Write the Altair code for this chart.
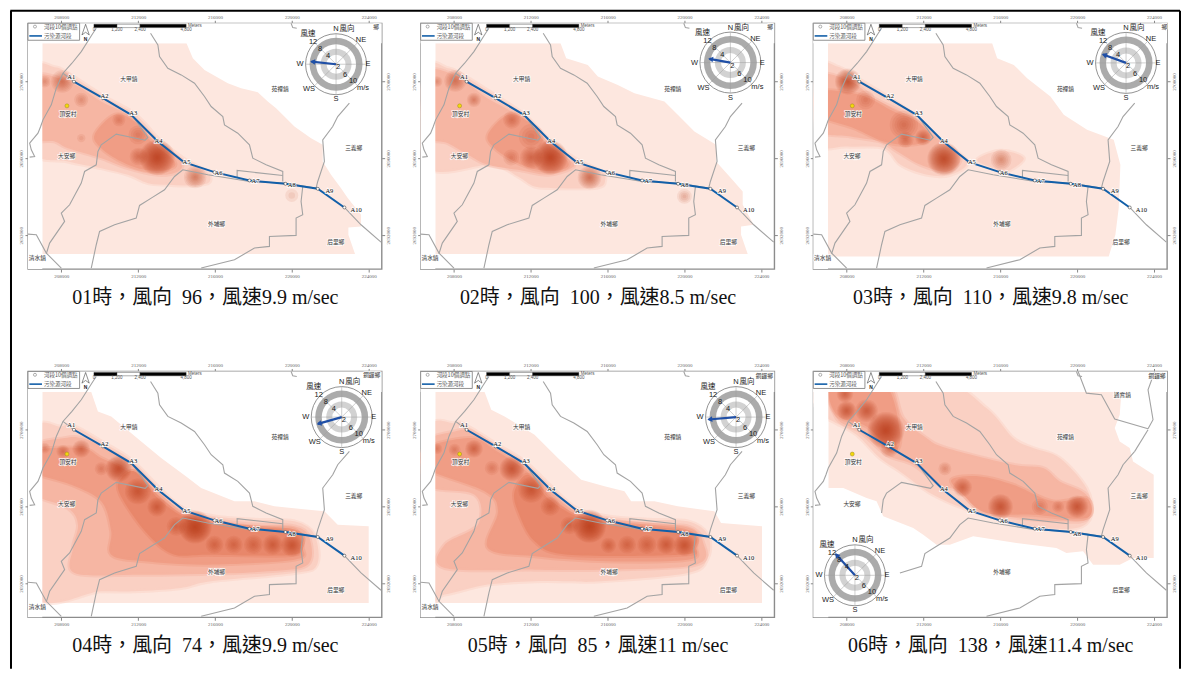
import math
import altair as alt
import pandas as pd

SERIF = "Liberation Serif, Noto Sans CJK TC"
SANS = "Liberation Sans, Noto Sans CJK TC"
CJK = "Noto Sans CJK TC"

# ---- panels ----
HOURS = ["01", "02", "03", "04", "05", "06"]
WIND_DIR = [96, 100, 110, 74, 85, 138]
WIND_SPEED = ["9.9", "8.5", "9.8", "9.9", "11", "11.4"]
# digitising origin of each panel (plot corner in the 3x reading grid)
ORIGIN_X = [80, 58, 58, 80, 58, 40]
ORIGIN_Y = [65, 65, 65, 60, 60, 60]
ROSE_X = [1005, 988, 997, 1022, 1005, 165]
ROSE_Y = [188, 183, 184, 197, 197, 672]

# ---- georeferencing (TWD97 metres; 52 m per pixel) ----
M_PER_PX = 52.0
E_MIN = 206267.0
N_MAX = 2703033.0
PLOT_W, PLOT_H = 354, 246
X_TICKS = [208000, 212000, 216000, 220000, 224000]
Y_TICKS = [2692000, 2696000, 2700000]
SCALE_BAR_START = 206267 + (278 - 80) / 3 * 52

# ---- shared map layers, read on panel 1's grid ----
RIVER_X = [218, 305, 390, 470, 548, 640, 745, 853, 950, 1030]
RIVER_Y = [240, 290, 340, 420, 482, 512, 537, 547, 562, 618]
RIVER_NAMES = ["A1", "A2", "A3", "A4", "A5", "A6", "A7", "A8", "A9", "A10"]
RIVER_LABEL_X = [210, 310, 396, 472, 556, 652, 763, 872, 985, 1065]
RIVER_LABEL_Y = [225, 282, 335, 417, 483, 514, 538, 552, 569, 625]

ROADS = [
    [(285, 80), (275, 95), (240, 150), (212, 185), (185, 215), (165, 260), (150, 310), (125, 355),
     (118, 375), (110, 395), (85, 425), (90, 445), (100, 465), (85, 467)],
    [(185, 215), (218, 240)],
    [(448, 95), (470, 130), (475, 165), (500, 200), (540, 220), (580, 245), (610, 285), (630, 315),
     (665, 345), (670, 370), (710, 395), (745, 430), (755, 470), (795, 490), (845, 510), (845, 540)],
    [(945, 560), (850, 545), (745, 540), (620, 520), (545, 505), (520, 525), (490, 565), (450, 590),
     (415, 612), (405, 650), (340, 670), (295, 690), (285, 730), (270, 800)],
    [(395, 345), (440, 408), (432, 416), (345, 398), (300, 430), (290, 450), (285, 490), (250, 510),
     (240, 545), (205, 610), (180, 635), (190, 660), (145, 725), (135, 757)],
    [(905, 555), (900, 600), (905, 640), (885, 650), (885, 702), (805, 705), (805, 735), (760, 740),
     (700, 775), (600, 800)],
    [(708, 527), (708, 507), (845, 522)],
    [(1045, 305), (1010, 345), (995, 375), (965, 415), (970, 480), (950, 540), (945, 560)],
    [(1030, 618), (1080, 670), (1140, 722)],
    [(80, 698), (105, 700), (135, 755), (180, 800)],
    [(870, 65), (875, 78), (887, 80)],
]
ROADS_06 = [
    [(1085, 240), (1045, 305)],
    [(875, 65), (900, 130), (945, 135), (985, 208), (1085, 237)],
    [(1085, 237), (1100, 210), (1085, 120), (1105, 65)],
]

PLACE_NAMES = ["大甲鎮", "苑裡鎮", "三義鄉", "頂安村", "大安鄉", "外埔鄉", "后里鄉", "清水鎮"]
PLACE_X = [383, 837, 1058, 200, 196, 646, 1004, 108]
PLACE_Y = [232, 263, 439, 337, 463, 667, 721, 771]
CORNER_TEXT = ["鄉", "鄉", "鄉", "銅鑼鄉", "銅鑼鄉", "銅鑼鄉"]
CORNER_X = [1125, 1107, 1112, 1112, 1090, 1072]
CORNER_Y = [76, 76, 76, 72, 73, 73]
VILLAGE = (197, 313)

LEGEND_LABELS = ["河段10個調點", "污染源河段"]
SCALE_STOPS = [0, 1200, 2400, 4800]
SCALE_TEXT = ["0", "1,200", "2,400", "4,800"]

# ---- plume contours per panel, read on each panel's own grid ----
LEVEL_COLOURS = {1: "#FDE7DF", 2: "#FAD0C3", 3: "#F6B6A3", 4: "#F09D85", 5: "#E8876B"}

BASE = [
    [(123, 125), (556, 125), (575, 170), (610, 205), (680, 245), (720, 260), (770, 272), (800, 300), (825, 320),
     (850, 345), (880, 375), (930, 410), (965, 430), (965, 480), (990, 520), (1020, 560), (1040, 590), (1080, 640),
     (1080, 675), (1042, 678), (1042, 700), (1062, 758), (123, 758)],
    [(102, 125), (478, 125), (495, 170), (560, 190), (590, 225), (650, 250), (700, 275), (790, 300), (830, 340),
     (880, 390), (945, 430), (945, 480), (990, 530), (1025, 570), (1025, 610), (1058, 670), (1020, 675), (1020, 700),
     (1040, 758), (102, 758)],
    [(102, 125), (595, 125), (610, 170), (660, 190), (700, 230), (770, 285), (810, 340), (880, 385), (960, 415),
     (980, 490), (975, 620), (965, 700), (945, 765), (102, 765)],
    [(123, 122), (270, 122), (290, 180), (330, 195), (420, 270), (480, 320), (555, 375), (600, 410), (700, 450),
     (760, 450), (820, 465), (970, 480), (1010, 520), (1103, 525), (1103, 755), (123, 755)],
    [(102, 122), (250, 122), (270, 175), (310, 195), (400, 250), (470, 320), (540, 385), (610, 405), (670, 420),
     (690, 450), (760, 450), (830, 465), (940, 480), (960, 515), (1083, 525), (1083, 755), (102, 755)],
    [(85, 122), (965, 122), (960, 190), (945, 230), (960, 270), (990, 290), (1000, 330), (1062, 370), (1062, 620),
     (1000, 620), (960, 640), (880, 640), (850, 600), (800, 605), (770, 590), (650, 575), (520, 555), (450, 580),
     (410, 580), (370, 550), (340, 530), (250, 495), (230, 450), (200, 440), (130, 410), (85, 410)],
]

# (level, outline)
BANDS = [
    [(2, [(123, 205), (160, 197), (200, 215), (300, 280), (390, 330), (430, 365), (470, 410), (545, 470), (600, 500),
          (625, 520), (620, 545), (560, 552), (500, 550), (440, 545), (380, 520), (300, 500), (200, 480), (123, 445)]),
     (3, [(123, 230), (200, 240), (300, 300), (380, 340), (440, 400), (480, 430), (540, 480), (530, 510), (470, 520),
          (380, 500), (300, 470), (200, 440), (160, 420), (123, 400)]),
     (4, [(280, 400), (340, 340), (400, 360), (450, 420), (520, 480), (500, 505), (430, 505), (360, 480), (300, 440)])],
    [(2, [(102, 205), (140, 200), (185, 220), (280, 280), (370, 340), (440, 410), (520, 470), (600, 510), (612, 535),
          (590, 558), (470, 560), (400, 555), (350, 525), (270, 490), (102, 492)]),
     (3, [(102, 215), (170, 225), (250, 285), (340, 335), (390, 375), (430, 420), (510, 480), (510, 500), (440, 520),
          (350, 505), (260, 490), (200, 460), (140, 425), (102, 395)]),
     (4, [(260, 400), (320, 340), (380, 360), (430, 420), (500, 480), (480, 505), (410, 505), (340, 480), (280, 440)])],
    [(2, [(102, 200), (130, 195), (190, 230), (280, 285), (360, 340), (440, 415), (520, 480), (470, 520), (400, 520),
          (320, 490), (270, 440), (160, 435), (102, 420)]),
     (2, [(550, 475), (620, 448), (690, 470), (640, 510), (600, 500)]),
     (3, [(102, 225), (170, 240), (240, 290), (340, 340), (400, 385), (440, 420), (500, 470), (460, 510), (380, 490),
          (310, 450), (260, 420), (170, 405), (102, 380)]),
     (4, [(102, 270), (200, 280), (300, 330), (370, 360), (410, 410), (350, 430), (270, 420), (180, 380), (102, 340)])],
    [(2, [(123, 260), (180, 225), (220, 225), (300, 270), (390, 325), (470, 405), (545, 470), (640, 495), (760, 505),
          (880, 510), (940, 550), (948, 640), (880, 665), (630, 690), (540, 710), (400, 720), (300, 720), (123, 722)]),
     (3, [(123, 290), (190, 260), (240, 260), (300, 285), (390, 340), (470, 420), (545, 480), (640, 505), (760, 520),
          (880, 525), (925, 560), (920, 640), (800, 660), (600, 668), (400, 670), (220, 665), (215, 590), (230, 520),
          (200, 470), (123, 420)]),
     (4, [(123, 300), (240, 290), (300, 320), (380, 360), (470, 430), (545, 490), (640, 510), (760, 530), (880, 535),
          (905, 590), (880, 625), (620, 640), (430, 630), (330, 610), (330, 540), (300, 450), (210, 400), (123, 360)]),
     (5, [(350, 400), (400, 360), (470, 440), (545, 495), (640, 520), (880, 540), (900, 590), (860, 612), (620, 610),
          (520, 610), (450, 560), (380, 470)])],
    [(2, [(102, 260), (160, 215), (200, 225), (280, 275), (370, 330), (450, 405), (525, 470), (620, 495), (740, 505),
          (860, 510), (920, 550), (920, 620), (860, 665), (600, 690), (500, 690), (400, 690), (260, 700), (130, 730),
          (102, 730)]),
     (3, [(102, 275), (160, 240), (210, 240), (280, 285), (370, 345), (450, 420), (525, 480), (620, 505), (740, 520),
          (860, 525), (905, 570), (885, 640), (600, 655), (400, 655), (130, 650), (130, 580), (230, 520), (220, 430),
          (102, 400)]),
     (4, [(102, 290), (210, 260), (280, 295), (370, 355), (440, 425), (525, 490), (620, 510), (860, 535), (885, 590),
          (860, 625), (620, 630), (400, 615), (260, 590), (290, 480), (250, 420), (102, 350)]),
     (5, [(340, 420), (380, 370), (440, 440), (525, 495), (620, 520), (860, 545), (880, 590), (840, 610), (500, 610),
          (400, 570), (350, 480)])],
    [(2, [(85, 122), (420, 122), (560, 170), (640, 260), (700, 290), (780, 320), (860, 410), (875, 490), (830, 530),
          (700, 525), (520, 480), (400, 430), (300, 360), (240, 320), (170, 250), (100, 210), (85, 180)]),
     (3, [(90, 122), (260, 122), (310, 200), (380, 260), (440, 290), (640, 340), (730, 350), (780, 390), (860, 430),
          (865, 500), (790, 510), (600, 490), (480, 420), (420, 400), (340, 340), (260, 310), (180, 240), (110, 200)]),
     (4, [(95, 122), (250, 122), (300, 240), (280, 300), (200, 225), (110, 190)]),
     (4, [(455, 385), (540, 375), (640, 400), (760, 450), (860, 440), (860, 500), (700, 490), (560, 485), (490, 430)])],
]

# hot spots: x, y, radius, strength
HOT = [
    [(130, 240, 20, 2), (183, 240, 38, 4), (240, 295, 24, 2), (240, 410, 14, 1), (353, 355, 22, 2), (410, 400, 32, 2),
     (412, 465, 30, 3), (468, 468, 60, 9), (582, 527, 38, 4), (872, 582, 22, 1)],
    [(107, 240, 18, 2), (162, 238, 37, 4), (218, 295, 24, 3), (332, 355, 30, 3), (390, 405, 42, 2), (390, 468, 38, 4),
     (448, 468, 58, 9), (565, 528, 40, 5), (850, 585, 25, 2), (330, 468, 27, 2)],
    [(162, 240, 44, 7), (215, 295, 32, 2), (330, 370, 48, 3), (335, 415, 27, 3), (388, 408, 27, 4), (450, 472, 56, 9),
     (622, 475, 35, 3)],
    [(130, 290, 18, 2), (240, 292, 30, 4), (185, 300, 22, 3), (300, 352, 22, 2), (352, 352, 44, 7), (410, 420, 44, 5),
     (467, 467, 32, 4), (582, 527, 56, 9), (525, 525, 32, 3), (640, 580, 30, 3), (698, 580, 30, 3), (757, 580, 32, 3),
     (815, 580, 34, 4), (873, 582, 38, 5)],
    [(107, 292, 18, 2), (218, 292, 30, 4), (160, 295, 20, 2), (272, 350, 24, 2), (332, 352, 42, 6), (390, 415, 44, 5),
     (447, 465, 32, 3), (565, 525, 56, 9), (505, 522, 30, 3), (622, 582, 26, 3), (678, 580, 30, 3), (737, 580, 32, 3),
     (795, 580, 32, 4), (850, 582, 36, 5)],
    [(135, 128, 28, 4), (140, 178, 33, 5), (200, 178, 38, 5), (258, 237, 62, 9), (268, 292, 30, 3), (435, 352, 22, 2),
     (488, 408, 32, 4), (602, 466, 42, 6), (775, 466, 20, 2), (832, 466, 38, 6), (720, 466, 27, 2)],
]

# ---- wind rose ----
ROSE_RINGS = [(30.5, "#FFFFFF"), (26.5, "#ABABAB"), (20.0, "#FFFFFF"), (15.5, "#D2D2D2"), (9.5, "#FFFFFF")]
ROSE_SPOKES = [0, 45, 90, 135]
ROSE_TEXT = ["N", "風向", "NE", "E", "m/s", "S", "WS", "W", "風速", "2", "4", "6", "8", "10", "12"]
ROSE_TEXT_DX = [0, 11, 25, 32, 27, 0, -27, -36, -28, 2, -8, 9, -16, 17, -23]
ROSE_TEXT_DY = [-35, -35, -24, 0, 24, 35, 25, 0, -30, 3, -8, 11, -15, 17, -22]
PX_PER_MS = 2.5
RING_STEPS = 2  # translucent circles per unit of hot-spot strength
BLEED = 30  # contour vertices on the plume's cut edges extend this far under the mask


def east(zx, x0):
    return E_MIN + (zx - x0) / 3 * M_PER_PX


def north(zy, y0):
    return N_MAX - (zy - y0) / 3 * M_PER_PX


def X(axis=None):
    return alt.X("e:Q", scale=alt.Scale(domain=[E_MIN, E_MIN + PLOT_W * M_PER_PX], nice=False, zero=False), axis=axis)


def Y(axis=None):
    return alt.Y("n:Q", scale=alt.Scale(domain=[N_MAX - PLOT_H * M_PER_PX, N_MAX], nice=False, zero=False), axis=axis)


def text_layer(rows, font, size, colour="#333333", halo=True, weight="normal"):
    df = pd.DataFrame(rows)
    enc = dict(x=X(), y=Y(), text="t:N")
    base = alt.Chart(df)
    out = []
    if halo:
        out.append(base.mark_text(font=font, fontSize=size, stroke="white", strokeWidth=1.6, strokeOpacity=0.85,
                                  fontWeight=weight).encode(**enc))
    out.append(base.mark_text(font=font, fontSize=size, color=colour, fontWeight=weight).encode(**enc))
    return out


def polygons(outlines):
    rows = []
    for i, (level, pts) in enumerate(outlines):
        for k, (x, y) in enumerate(pts):
            rows.append(dict(e=x, n=y, id=i, k=k, c=LEVEL_COLOURS[level]))
    return pd.DataFrame(rows)


def panel(i, extra=None):
    x0, y0 = ORIGIN_X[i], ORIGIN_Y[i]
    left = min(p[0] for p in BASE[i])
    top = min(p[1] for p in BASE[i])

    def fix_poly(df, bleed=False):
        df = df.copy()
        if bleed:
            df.loc[df["e"] <= left, "e"] -= BLEED
            df.loc[df["n"] <= top, "n"] -= BLEED
        df["e"] = east(df["e"], x0)
        df["n"] = north(df["n"], y0)
        return df

    layers = []
    caption = f"{HOURS[i]}時\uff0c風向\u2002{WIND_DIR[i]}\uff0c風速{WIND_SPEED[i]} m/sec"
    ax_common = dict(labelFont="Liberation Serif", labelFontSize=5, labelColor="#666666", tickColor="#888888",
                     tickSize=3, domain=False, grid=False, labelPadding=1)
    xb = alt.Axis(orient="bottom", values=X_TICKS, format="d", title=caption, titleFont=SERIF, titleFontSize=20,
                  titleFontWeight="normal", titleColor="#111111", titlePadding=9, **ax_common)
    xt = alt.Axis(orient="top", values=X_TICKS, format="d", title=None, **ax_common)
    yl = alt.Axis(orient="left", values=Y_TICKS, format="d", title=None, labelAngle=270, labelAlign="center",
                  labelBaseline="bottom", **ax_common)
    yr = alt.Axis(orient="right", values=Y_TICKS, format="d", title=None, labelAngle=270, labelAlign="center",
                  labelBaseline="top", **ax_common)

    # plume base
    base_df = fix_poly(polygons([(1, BASE[i])]))
    layers.append(alt.Chart(base_df).mark_line(filled=True, interpolate="linear-closed", strokeWidth=0).encode(
        x=X(xb), y=Y(yl), order="k:Q", detail="id:N", color=alt.Color("c:N", scale=None)))
    band_df = fix_poly(polygons(BANDS[i]), bleed=True)
    layers.append(alt.Chart(band_df).mark_line(filled=True, interpolate="cardinal-closed", strokeWidth=4,
                                               strokeOpacity=0.45, clip=True).encode(
        x=X(xt), y=Y(yr), order="k:Q", detail="id:N", fill=alt.Fill("c:N", scale=None),
        stroke=alt.Stroke("c:N", scale=None)))

    # hot spots as stacked translucent rings
    rows = []
    for (x, y, r, n) in HOT[i]:
        steps = n * RING_STEPS
        for j in range(steps):
            rr = r / 3 * (1 - j / steps)
            rows.append(dict(e=east(x, x0), n=north(y, y0), a=math.pi * rr * rr))
    layers.append(alt.Chart(pd.DataFrame(rows)).mark_circle(color="#B93518", opacity=0.085, clip=True).encode(
        x=X(), y=Y(), size=alt.Size("a:Q", scale=None)))

    # white masks that cut the plume along the straight edge of its grid
    mask = pd.DataFrame([
        dict(e=E_MIN, e2=east(left, x0), n=N_MAX, n2=N_MAX - PLOT_H * M_PER_PX),
        dict(e=E_MIN, e2=E_MIN + PLOT_W * M_PER_PX, n=N_MAX, n2=north(top, y0)),
    ])
    layers.append(alt.Chart(mask).mark_rect(color="white", opacity=1).encode(x=X(), x2="e2:Q", y=Y(), y2="n2:Q"))

    # roads, digitised on panel 1's grid (the lower-left corner of panel 6 is left blank for its wind rose)
    roads = list(ROADS) + (ROADS_06 if i == 5 else [])
    rows = []
    for rid, pts in enumerate(roads):
        for k, (x, y) in enumerate(pts):
            if i == 5 and x < 320 and y > 500:
                continue
            rows.append(dict(e=east(x, 80), n=north(y, 65), id=rid, k=k))
    layers.append(alt.Chart(pd.DataFrame(rows)).mark_line(color="#A3A3A3", strokeWidth=1.1).encode(
        x=X(), y=Y(), order="k:Q", detail="id:N"))

    # river
    river = pd.DataFrame(dict(e=[east(v, 80) for v in RIVER_X], n=[north(v, 65) for v in RIVER_Y], k=range(10)))
    layers.append(alt.Chart(river).mark_line(color="#125FA8", strokeWidth=2).encode(x=X(), y=Y(), order="k:Q"))
    layers.append(alt.Chart(river).mark_point(shape="circle", size=9, filled=True, fill="white", stroke="#444444",
                                              strokeWidth=0.6, opacity=1).encode(x=X(), y=Y()))
    layers += text_layer([dict(e=east(x, 80), n=north(y, 65), t=t)
                          for x, y, t in zip(RIVER_LABEL_X, RIVER_LABEL_Y, RIVER_NAMES)], SERIF, 6.5, "#222222")

    # village + place names
    layers.append(alt.Chart(pd.DataFrame([dict(e=east(VILLAGE[0], 80), n=north(VILLAGE[1], 65))])).mark_point(
        shape="circle", size=16, filled=True, fill="#F4D80C", stroke="#9A8A20", strokeWidth=0.5, opacity=1
    ).encode(x=X(), y=Y()))
    names = [dict(e=east(x, 80), n=north(y, 65), t=t) for x, y, t in zip(PLACE_X, PLACE_Y, PLACE_NAMES)
             if not (i == 5 and t == "清水鎮")]
    names.append(dict(e=east(CORNER_X[i], x0), n=north(CORNER_Y[i], y0), t=CORNER_TEXT[i]))
    if i == 5:
        names.append(dict(e=east(968, x0), n=north(132, y0), t="通霄鎮"))
    layers += text_layer(names, CJK, 5.7, "#444444")

    # map legend
    box = pd.DataFrame([dict(e=east(80, 80), e2=east(235, 80), n=north(65, 65), n2=north(116, 65))])
    layers.append(alt.Chart(box).mark_rect(fill="white", stroke="#777777", strokeWidth=0.8).encode(
        x=X(), x2="e2:Q", y=Y(), y2="n2:Q"))
    layers.append(alt.Chart(pd.DataFrame([dict(e=east(101, 80), n=north(75, 65))])).mark_point(
        shape="circle", size=9, color="#444444", strokeWidth=0.6).encode(x=X(), y=Y()))
    leg_line = pd.DataFrame(dict(e=[east(84, 80), east(122, 80)], n=[north(103, 65)] * 2))
    layers.append(alt.Chart(leg_line).mark_line(color="#125FA8", strokeWidth=1.6).encode(x=X(), y=Y()))
    layers.append(alt.Chart(pd.DataFrame([dict(e=east(128, 80), n=north(y, 65), t=t) for y, t in zip([77, 103], LEGEND_LABELS)]))
                  .mark_text(font=CJK, fontSize=5.5, color="#555555", align="left").encode(x=X(), y=Y(), text="t:N"))

    # north arrow
    arrow = pd.DataFrame(dict(e=[east(v, 80) for v in [253, 242, 253, 264]], n=[north(v, 65) for v in [68, 100, 92, 100]], k=range(4)))
    layers.append(alt.Chart(arrow).mark_line(interpolate="linear-closed", color="#444444", strokeWidth=0.6).encode(
        x=X(), y=Y(), order="k:Q"))
    layers.append(alt.Chart(pd.DataFrame([dict(e=east(253, 80), n=north(111, 65), t="N")])).mark_text(
        font=SANS, fontSize=5, color="#222222", fontWeight="bold").encode(x=X(), y=Y(), text="t:N"))

    # scale bar (metres along the x scale)
    sbar = pd.DataFrame([
        dict(e=SCALE_BAR_START + a, e2=SCALE_BAR_START + b, n=north(68, 65), n2=north(78, 65), c=c)
        for a, b, c in zip(SCALE_STOPS[:-1], SCALE_STOPS[1:], ["#000000", "#FFFFFF", "#000000"])
    ])
    layers.append(alt.Chart(sbar).mark_rect(stroke="#333333", strokeWidth=0.4).encode(
        x=X(), x2="e2:Q", y=Y(), y2="n2:Q", fill=alt.Fill("c:N", scale=None)))
    layers.append(alt.Chart(pd.DataFrame([dict(e=SCALE_BAR_START + s, n=north(85, 65), t=t) for s, t in zip(SCALE_STOPS, SCALE_TEXT)]))
                  .mark_text(font=SANS, fontSize=4.5, color="#555555").encode(x=X(), y=Y(), text="t:N"))
    layers.append(alt.Chart(pd.DataFrame([dict(e=SCALE_BAR_START + 4900, n=north(73, 65), t="Meters")]))
                  .mark_text(font=SANS, fontSize=4.5, color="#555555", align="left").encode(x=X(), y=Y(), text="t:N"))

    # wind rose (a Vega circle of size s has radius sqrt(s) / 2)
    cx, cy = east(ROSE_X[i], x0), north(ROSE_Y[i], y0)
    rings = pd.DataFrame([dict(e=cx, n=cy, a=4 * r * r, c=c, k=j) for j, (r, c) in enumerate(ROSE_RINGS)])
    for j in range(len(ROSE_RINGS)):
        ring = rings[rings.k == j]
        stroke = dict(stroke="#777777", strokeWidth=0.8) if j == 0 else {}
        layers.append(alt.Chart(ring).mark_circle(opacity=1, **stroke).encode(
            x=X(), y=Y(), size=alt.Size("a:Q", scale=None), color=alt.Color("c:N", scale=None)))
    R = 30.5 * M_PER_PX
    spokes = pd.DataFrame([
        dict(e=cx - R * math.sin(math.radians(b)), n=cy - R * math.cos(math.radians(b)),
             e2=cx + R * math.sin(math.radians(b)), n2=cy + R * math.cos(math.radians(b)))
        for b in ROSE_SPOKES
    ])
    layers.append(alt.Chart(spokes).mark_rule(color="#9E9E9E", strokeWidth=0.5).encode(
        x=X(), x2="e2:Q", y=Y(), y2="n2:Q"))
    bearing = (WIND_DIR[i] + 180) % 360
    speed = float(WIND_SPEED[i])
    L = speed * PX_PER_MS * M_PER_PX
    sinb, cosb = math.sin(math.radians(bearing)), math.cos(math.radians(bearing))
    layers.append(alt.Chart(pd.DataFrame([dict(e=cx, e2=cx + L * sinb, n=cy, n2=cy + L * cosb)])).mark_rule(
        color="#1F4FA6", strokeWidth=2.2).encode(x=X(), x2="e2:Q", y=Y(), y2="n2:Q"))
    layers.append(alt.Chart(pd.DataFrame([dict(e=cx + (L - 60) * sinb, n=cy + (L - 60) * cosb, a=bearing)])).mark_point(
        shape="triangle-up", size=32, filled=True, color="#1F4FA6", opacity=1).encode(
        x=X(), y=Y(), angle=alt.Angle("a:Q", scale=None)))
    rose_rows = [dict(e=cx + dx * M_PER_PX, n=cy - dy * M_PER_PX, t=t)
                 for t, dx, dy in zip(ROSE_TEXT, ROSE_TEXT_DX, ROSE_TEXT_DY)]
    layers += text_layer(rose_rows, SANS, 7.5, "#222222", halo=False)

    if extra:
        layers += extra
    return alt.layer(*layers).resolve_axis(x="independent", y="independent").properties(width=PLOT_W, height=PLOT_H)


# outer sheet frame, anchored on the first panel
dummy = alt.Data(values=[{}])
frame = [
    alt.Chart(dummy).mark_rule(color="black", strokeWidth=2).encode(x=alt.value(-17), y=alt.value(-12.5), y2=alt.value(646)),
    alt.Chart(dummy).mark_rule(color="black", strokeWidth=2).encode(x=alt.value(-17.7), x2=alt.value(1153), y=alt.value(-12.5)),
    alt.Chart(dummy).mark_rule(color="black", strokeWidth=2).encode(x=alt.value(1153), y=alt.value(-12.5), y2=alt.value(646)),
]

panels = [panel(i, frame if i == 0 else None) for i in range(6)]
chart = alt.concat(*panels, columns=3, spacing={"row": 102.5, "column": 39}, bounds="flush").properties(
    padding=0, background="white"
).configure_view(stroke="#8C8C8C", strokeWidth=1.4)

chart.save("out.html", embed_options={"renderer": "svg", "actions": False})
